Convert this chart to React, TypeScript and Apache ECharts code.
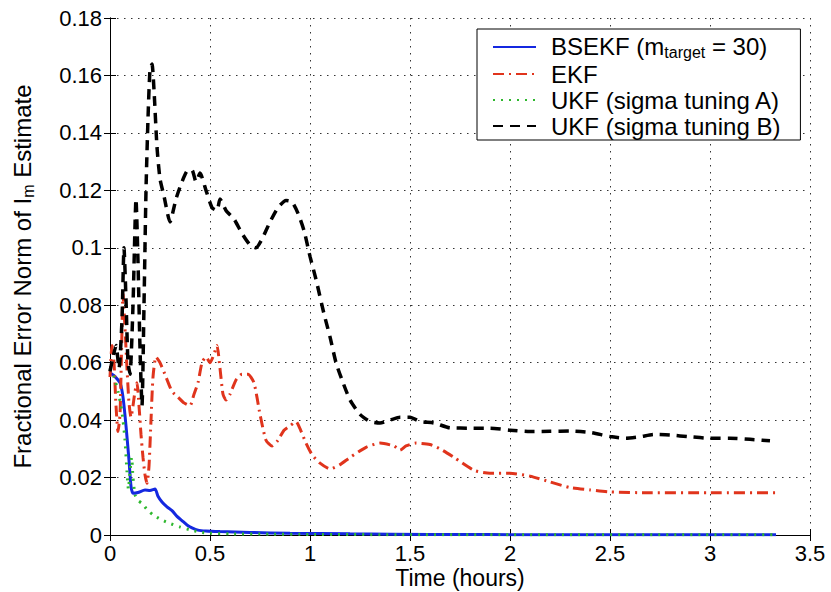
import React, { useEffect, useRef } from 'react';
import * as echarts from 'echarts';

// Axis ticks
const xTicks = [0, 0.5, 1, 1.5, 2, 2.5, 3, 3.5];
const yTicks = [0, 0.02, 0.04, 0.06, 0.08, 0.1, 0.12, 0.14, 0.16, 0.18];

// BSEKF (m_target = 30)
const bsekfT = [0, 0.02, 0.05, 0.065, 0.08, 0.095, 0.105, 0.115, 0.14, 0.175, 0.2, 0.225, 0.24, 0.26, 0.285, 0.31, 0.335, 0.36, 0.385, 0.41, 0.44, 0.48, 0.55, 0.7, 0.9, 1.2, 1.6, 2.2, 3.33];
const bsekfV = [0.0565, 0.0555, 0.053, 0.048, 0.038, 0.026, 0.017, 0.0145, 0.0148, 0.0157, 0.0155, 0.016, 0.0135, 0.0115, 0.0098, 0.0085, 0.0065, 0.005, 0.0035, 0.0025, 0.0017, 0.0014, 0.0012, 0.0009, 0.0006, 0.0004, 0.0002, 0.0001, 0.0001];

// EKF
const ekfT = [0, 0.01, 0.02, 0.03, 0.04, 0.05, 0.058, 0.065, 0.075, 0.085, 0.095, 0.105, 0.115, 0.125, 0.135, 0.145, 0.155, 0.165, 0.175, 0.185, 0.195, 0.205, 0.215, 0.23, 0.25, 0.28, 0.31, 0.34, 0.37, 0.4, 0.42, 0.44, 0.46, 0.48, 0.5, 0.52, 0.535, 0.55, 0.565, 0.58, 0.6, 0.63, 0.66, 0.69, 0.72, 0.75, 0.78, 0.81, 0.84, 0.87, 0.9, 0.93, 0.95, 0.98, 1.01, 1.05, 1.1, 1.15, 1.2, 1.28, 1.35, 1.42, 1.45, 1.48, 1.53, 1.6, 1.65, 1.72, 1.82, 1.9, 2.0, 2.1, 2.2, 2.3, 2.4, 2.5, 2.7, 3.0, 3.33];
const ekfV = [0.055, 0.066, 0.06, 0.045, 0.036, 0.042, 0.065, 0.084, 0.072, 0.058, 0.046, 0.041, 0.045, 0.05, 0.053, 0.045, 0.035, 0.027, 0.021, 0.018, 0.024, 0.04, 0.055, 0.062, 0.06, 0.055, 0.05, 0.048, 0.046, 0.045, 0.049, 0.053, 0.06, 0.062, 0.06, 0.063, 0.066, 0.058, 0.049, 0.047, 0.049, 0.054, 0.056, 0.056, 0.053, 0.042, 0.033, 0.031, 0.033, 0.0365, 0.038, 0.0395, 0.037, 0.032, 0.028, 0.025, 0.023, 0.0245, 0.027, 0.0305, 0.032, 0.031, 0.0295, 0.031, 0.032, 0.0315, 0.03, 0.027, 0.0225, 0.0215, 0.0215, 0.0205, 0.0185, 0.0165, 0.0157, 0.015, 0.0147, 0.0147, 0.0147];

// UKF (sigma tuning A)
const ukfAT = [0, 0.02, 0.04, 0.055, 0.065, 0.075, 0.085, 0.092, 0.1, 0.108, 0.115, 0.125, 0.14, 0.16, 0.19, 0.22, 0.26, 0.3, 0.35, 0.4, 0.45, 0.5, 0.6, 0.8, 1.0, 1.5, 2.0, 3.33];
const ukfAV = [0.058, 0.055, 0.05, 0.045, 0.04, 0.033, 0.022, 0.016, 0.022, 0.027, 0.02, 0.014, 0.012, 0.011, 0.0085, 0.0068, 0.0052, 0.004, 0.0028, 0.0018, 0.001, 0.0006, 0.0004, 0.0003, 0.0002, 0.0001, 0.0001, 0.0001];

// UKF (sigma tuning B)
const ukfBT = [0, 0.015, 0.03, 0.045, 0.06, 0.07, 0.08, 0.09, 0.1, 0.115, 0.13, 0.14, 0.15, 0.16, 0.17, 0.18, 0.19, 0.2, 0.21, 0.22, 0.235, 0.25, 0.27, 0.3, 0.33, 0.36, 0.39, 0.41, 0.43, 0.45, 0.48, 0.51, 0.535, 0.55, 0.58, 0.62, 0.66, 0.7, 0.73, 0.76, 0.8, 0.84, 0.88, 0.91, 0.94, 0.97, 1.0, 1.03, 1.07, 1.1, 1.13, 1.16, 1.2, 1.25, 1.3, 1.35, 1.4, 1.45, 1.5, 1.55, 1.62, 1.7, 1.8, 1.9, 2.0, 2.1, 2.2, 2.3, 2.4, 2.5, 2.58, 2.65, 2.72, 2.8, 2.9, 3.0, 3.1, 3.2, 3.3];
const ukfBV = [0.057, 0.062, 0.066, 0.058, 0.075, 0.1, 0.082, 0.06, 0.056, 0.08, 0.117, 0.095, 0.065, 0.045, 0.08, 0.12, 0.145, 0.162, 0.164, 0.155, 0.135, 0.124, 0.118, 0.109, 0.117, 0.123, 0.127, 0.127, 0.123, 0.126, 0.12, 0.114, 0.113, 0.117, 0.113, 0.11, 0.105, 0.101, 0.1, 0.103, 0.109, 0.114, 0.1165, 0.116, 0.112, 0.106, 0.097, 0.089, 0.077, 0.069, 0.06, 0.054, 0.047, 0.042, 0.0395, 0.039, 0.04, 0.041, 0.041, 0.0395, 0.039, 0.0373, 0.0372, 0.0372, 0.0365, 0.036, 0.0361, 0.0362, 0.0357, 0.0343, 0.0337, 0.0342, 0.035, 0.0348, 0.0342, 0.0337, 0.0337, 0.0333, 0.0328];

const seriesNames = ['BSEKF', 'EKF', 'UKF A', 'UKF B'];
const legendLabels: Record<string, string> = {
  'EKF': 'EKF',
  'UKF A': 'UKF (sigma tuning A)',
  'UKF B': 'UKF (sigma tuning B)',
};

const FONT = '"Liberation Sans", Arial, Helvetica, sans-serif';

const pairs = (t: number[], v: number[]) => t.map((x, i) => [x, v[i]]);

export default function App() {
  const ref = useRef<HTMLDivElement>(null);
  useEffect(() => {
    if (!ref.current) return;
    const chart = echarts.init(ref.current, null, { renderer: 'svg' });
    const xInt = xTicks[1] - xTicks[0];
    const yInt = yTicks[1] - yTicks[0];
    const common = { fontFamily: FONT, color: '#000' };
    const lineSeries = (name: string, data: number[][], color: string, width: number, type: any, z: number) => ({
      name,
      type: 'line',
      data,
      showSymbol: false,
      symbol: 'none',
      smooth: 0.2,
      z,
      lineStyle: { color, width, type },
      itemStyle: { color },
    });
    chart.setOption({
      animation: false,
      backgroundColor: '#fff',
      grid: { left: 110, right: 21, top: 18, bottom: 57, outerBoundsMode: 'none', show: false },
      legend: {
        orient: 'vertical',
        left: 477,
        top: 29,
        padding: [0, 20, 2, 15],
        itemGap: 2,
        itemWidth: 43,
        itemHeight: 14,
        borderColor: '#000',
        borderWidth: 1,
        backgroundColor: '#fff',
        itemStyle: { color: 'rgba(0,0,0,0)', borderWidth: 0, opacity: 0 },
        data: seriesNames,
        formatter: (name: string) =>
          name === 'BSEKF'
            ? '{n0|BSEKF (m}{s|target}{n| = 30)}'
            : `{m|${legendLabels[name]}}`,
        textStyle: {
          ...common,
          fontSize: 24,
          rich: {
            n0: { ...common, fontSize: 24, lineHeight: 26, verticalAlign: 'top', padding: [0, 0, 0, 10] },
            n: { ...common, fontSize: 24, lineHeight: 26, verticalAlign: 'top' },
            s: { ...common, fontSize: 16, lineHeight: 17, padding: [15, 0, 0, 0], verticalAlign: 'bottom' },
            m: { ...common, fontSize: 24, lineHeight: 25, padding: [0, 0, 0, 10] },
          },
        },
      },
      xAxis: [
        {
          type: 'value',
          min: xTicks[0],
          max: xTicks[xTicks.length - 1],
          interval: xInt,
          name: 'Time (hours)',
          nameLocation: 'middle',
          nameGap: 33,
          nameMoveOverlap: false,
          nameTextStyle: { ...common, fontSize: 23, lineHeight: 20 },
          axisLine: { show: true, lineStyle: { color: '#000', width: 1 } },
          axisTick: { show: true, inside: true, length: 6, lineStyle: { color: '#000' } },
          axisLabel: { ...common, fontSize: 22, lineHeight: 22, margin: 7 },
          splitLine: { show: true, lineStyle: { color: '#333', width: 1, type: [1.5, 5.5] } },
        },
        {
          type: 'value',
          position: 'top',
          min: xTicks[0],
          max: xTicks[xTicks.length - 1],
          interval: xInt,
          axisLine: { show: true, lineStyle: { color: '#000', width: 1 } },
          axisTick: { show: true, inside: true, length: 6, lineStyle: { color: '#000' } },
          axisLabel: { show: false },
          splitLine: { show: false },
        },
      ],
      yAxis: [
        {
          type: 'value',
          min: yTicks[0],
          max: yTicks[yTicks.length - 1],
          interval: yInt,
          name: '{n|Fractional Error Norm of I}{s|m}{n| Estimate}',
          nameLocation: 'middle',
          nameGap: 74,
          nameMoveOverlap: false,
          nameTextStyle: {
            ...common,
            fontSize: 24,
            rich: {
              n: { ...common, fontSize: 24, lineHeight: 26, verticalAlign: 'top' },
              s: { ...common, fontSize: 16, lineHeight: 17, padding: [15, 0, 0, 0], verticalAlign: 'bottom' },
            },
          },
          axisLine: { show: true, lineStyle: { color: '#000', width: 1 } },
          axisTick: { show: true, inside: true, length: 6, lineStyle: { color: '#000' } },
          axisLabel: { ...common, fontSize: 22, margin: 8 },
          splitLine: { show: true, lineStyle: { color: '#333', width: 1, type: [1.5, 5.5] } },
        },
        {
          type: 'value',
          position: 'right',
          min: yTicks[0],
          max: yTicks[yTicks.length - 1],
          interval: yInt,
          axisLine: { show: true, lineStyle: { color: '#000', width: 1 } },
          axisTick: { show: true, inside: true, length: 6, lineStyle: { color: '#000' } },
          axisLabel: { show: false },
          splitLine: { show: false },
        },
      ],
      series: [
        lineSeries('BSEKF', pairs(bsekfT, bsekfV), '#1428e0', 3, 'solid', 3),
        lineSeries('EKF', pairs(ekfT, ekfV), '#e0341c', 3, [11, 5, 2, 5], 4),
        lineSeries('UKF A', pairs(ukfAT, ukfAV), '#2eb82e', 3, [2, 6], 5),
        lineSeries('UKF B', pairs(ukfBT, ukfBV), '#000000', 3.5, [10, 7], 6),
      ],
    });
    return () => chart.dispose();
  }, []);
  return (
    <div
      ref={ref}
      style={{ position: 'fixed', left: 0, top: 0, width: 831, height: 592, background: '#fff' }}
    />
  );
}
